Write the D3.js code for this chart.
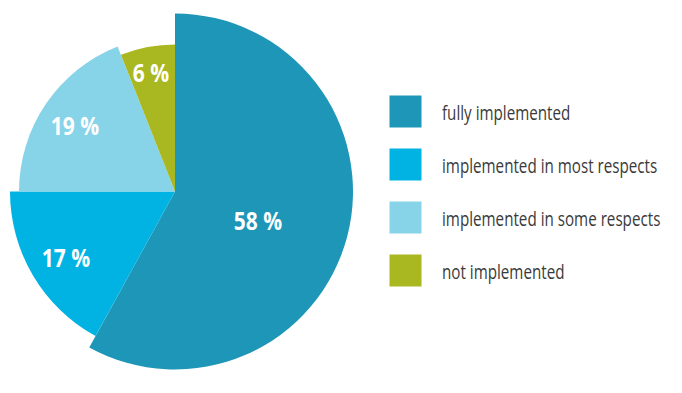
<!DOCTYPE html>
<html><head><meta charset="utf-8">
<script src="https://cdn.jsdelivr.net/npm/d3@7"></script>
<style>body{margin:0;background:#fff}svg{display:block}</style>
</head><body>
<script>
const categories = ["fully implemented","implemented in most respects","implemented in some respects","not implemented"];
const values = [58,17,19,6];
const labels = ["58 %","17 %","19 %","6 %"];
const colors = ["#1d96b8","#00b3e3","#87d3e8","#a9b820"];
const radii = [178,165,156,147];

const W=682,H=393;
const svg=d3.select("body").append("svg").attr("width",W).attr("height",H);
const cx=175, cy=191.5;
const g=svg.append("g").attr("transform",`translate(${cx},${cy})`);
const pie=d3.pie().sort(null).value(d=>d.v);
const data=pie(values.map((v,i)=>({v,i})));
const labelPos=[[258,221],[66,258],[75,126],[151,73]];
g.selectAll("path").data(data).join("path")
  .attr("d",d=>d3.arc().innerRadius(0).outerRadius(radii[d.data.i])(d))
  .attr("fill",d=>colors[d.data.i]);
const font='"Open Sans",sans-serif';
// condensed look: horizontal squeeze
const labSX=0.84, legSX=0.76;
const labs=svg.selectAll("g.lab").data(data).join("g").attr("class","lab")
  .attr("transform",d=>`translate(${labelPos[d.data.i][0]},${labelPos[d.data.i][1]}) scale(${labSX},1)`);
labs.append("text")
  .attr("text-anchor","middle").attr("dy","0.36em")
  .attr("fill","#fff").attr("font-family",font).attr("font-weight","bold").attr("font-size",25)
  .text(d=>labels[d.data.i]);
const leg=svg.append("g");
const ly=d3.scalePoint().domain(categories).range([95.5,254.5]);
leg.selectAll("rect").data(categories).join("rect")
  .attr("x",389.5).attr("y",d=>ly(d)).attr("width",32).attr("height",32)
  .attr("fill",(d,i)=>colors[i]);
leg.selectAll("g.lt").data(categories).join("g").attr("class","lt")
  .attr("transform",d=>`translate(442,${ly(d)+24.5}) scale(${legSX},1)`)
  .append("text")
  .attr("fill","#3a3a3a").attr("font-family",font).attr("font-size",20)
  .text(d=>d);
</script>
</body></html>
